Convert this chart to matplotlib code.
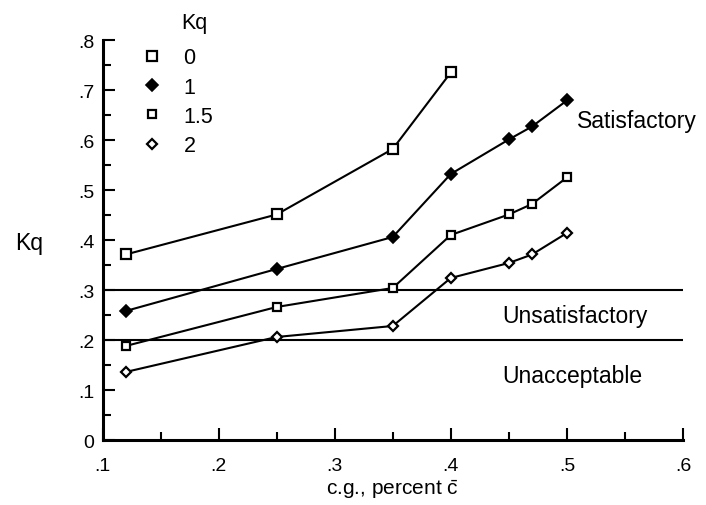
import matplotlib
matplotlib.use('Agg')
import matplotlib.pyplot as plt
from matplotlib.lines import Line2D
from matplotlib.ticker import MultipleLocator, FuncFormatter

plt.rcParams['font.family'] = ['Liberation Sans', 'DejaVu Sans']
plt.rcParams['mathtext.fontset'] = 'custom'
plt.rcParams['mathtext.rm'] = 'Liberation Sans'

# data
cg = [0.12, 0.25, 0.35, 0.40, 0.45, 0.47, 0.50]
cg0 = [0.12, 0.25, 0.35, 0.40]
kq0 = [0.372, 0.452, 0.583, 0.736]
kq1 = [0.259, 0.343, 0.407, 0.533, 0.602, 0.628, 0.680]
kq15 = [0.189, 0.267, 0.305, 0.411, 0.452, 0.473, 0.526]
kq2 = [0.137, 0.207, 0.229, 0.325, 0.355, 0.372, 0.415]
legend_labels = ['0', '1', '1.5', '2']
limits = [0.3, 0.2]

fig = plt.figure(figsize=(7.06, 5.06), dpi=100)
ax = fig.add_axes([0.1452, 0.1275, 0.8222, 0.7905])

lw = 1.5
ax.plot(cg0, kq0, color='k', lw=lw, marker='s', ms=7.5, mfc='white', mec='k', mew=1.6, zorder=3)
ax.plot(cg, kq1, color='k', lw=lw, marker='D', ms=6, mfc='k', mec='k', mew=1.2, zorder=3)
ax.plot(cg, kq15, color='k', lw=lw, marker='s', ms=5.5, mfc='white', mec='k', mew=1.6, zorder=3)
ax.plot(cg, kq2, color='k', lw=lw, marker='D', ms=5.5, mfc='white', mec='k', mew=1.6, zorder=3)

for y in limits:
    ax.axhline(y, color='k', lw=1.5, zorder=2)

ax.text(0.509, 0.64, 'Satisfactory', fontsize=16.5, ha='left', va='center')
ax.text(0.444, 0.25, 'Unsatisfactory', fontsize=16.5, ha='left', va='center')
ax.text(0.444, 0.13, 'Unacceptable', fontsize=16.5, ha='left', va='center')

ax.set_xlim(0.1, 0.6)
ax.set_ylim(0, 0.8)
ax.xaxis.set_major_locator(MultipleLocator(0.1))
ax.xaxis.set_minor_locator(MultipleLocator(0.05))
ax.yaxis.set_major_locator(MultipleLocator(0.1))
ax.yaxis.set_minor_locator(MultipleLocator(0.05))

def fmt(v, pos):
    if abs(v) < 1e-9:
        return '0'
    return ('%.1f' % v).lstrip('0')
ax.xaxis.set_major_formatter(FuncFormatter(fmt))
ax.yaxis.set_major_formatter(FuncFormatter(fmt))

ax.tick_params(which='both', direction='in', width=1.5, labelsize=14)
ax.tick_params(which='major', length=8.5)
ax.tick_params(which='minor', length=5.5)
ax.tick_params(axis='x', pad=12)
ax.tick_params(axis='y', pad=6)

for s in ['top', 'right']:
    ax.spines[s].set_visible(False)
for s in ['left', 'bottom']:
    ax.spines[s].set_linewidth(2.2)

ax.set_xlabel('c.g., percent ' + r'$\bar{\mathrm{c}}$', fontsize=15, labelpad=2)
ax.set_ylabel('Kq', fontsize=16.5, rotation=0, ha='center', va='center')
ax.yaxis.set_label_coords(-0.126, 0.494)

handles = [
    Line2D([], [], ls='none', marker='s', ms=7.5, mfc='white', mec='k', mew=1.6),
    Line2D([], [], ls='none', marker='D', ms=6, mfc='k', mec='k', mew=1.2),
    Line2D([], [], ls='none', marker='s', ms=5.5, mfc='white', mec='k', mew=1.6),
    Line2D([], [], ls='none', marker='D', ms=5.5, mfc='white', mec='k', mew=1.6),
]
leg = ax.legend(handles, legend_labels, loc='upper left', bbox_to_anchor=(0.067, 0.983),
                frameon=False, fontsize=15.5, numpoints=1, handlelength=1.0,
                handletextpad=0.95, labelspacing=0.385, borderpad=0, borderaxespad=0)
ax.text(0.136, 1.045, 'Kq', transform=ax.transAxes, fontsize=15.5, ha='left', va='center')

fig.savefig('out.png', dpi=100)
